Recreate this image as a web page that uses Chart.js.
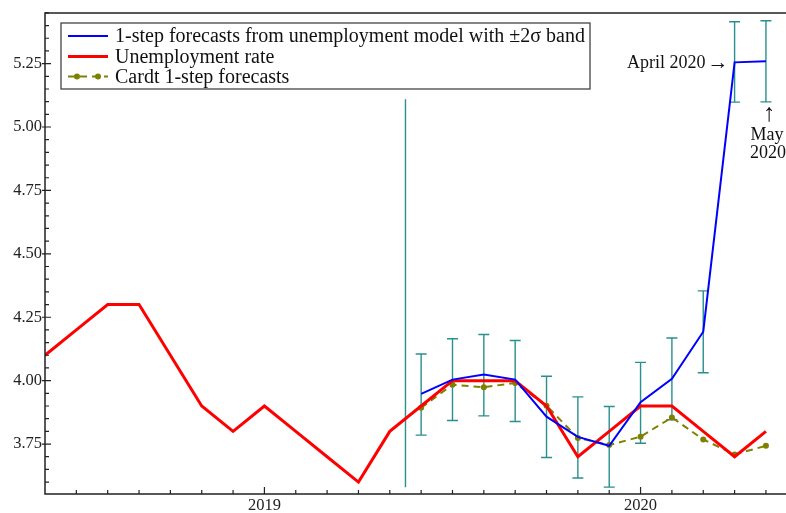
<!DOCTYPE html>
<html><head><meta charset="utf-8">
<script src="https://cdn.jsdelivr.net/npm/chart.js@4.4.0/dist/chart.umd.min.js"></script>
<style>html,body{margin:0;padding:0;background:#fff}canvas{display:block}</style>
</head><body>
<canvas id="c" width="786" height="513"></canvas>
<script>
// Months indexed from Jun 2018 (0) to May 2020 (23)
const months = ['Jun 2018','Jul 2018','Aug 2018','Sep 2018','Oct 2018','Nov 2018','Dec 2018',
  'Jan 2019','Feb 2019','Mar 2019','Apr 2019','May 2019','Jun 2019','Jul 2019','Aug 2019','Sep 2019',
  'Oct 2019','Nov 2019','Dec 2019','Jan 2020','Feb 2020','Mar 2020','Apr 2020','May 2020'];
const unemployment = [4.1,4.2,4.3,4.3,4.1,3.9,3.8,3.9,3.8,3.7,3.6,3.8,3.9,4.0,4.0,4.0,3.9,3.7,3.8,3.9,3.9,3.8,3.7,3.8];
const forecastStart = 12; // Jun 2019
const modelForecast = [3.948,4.004,4.024,4.004,3.858,3.778,3.743,3.915,4.007,4.193,5.255,5.259];
const bandUpper = [4.105,4.165,4.182,4.158,4.017,3.936,3.898,4.072,4.168,4.354,5.415,5.419];
const bandLower = [3.785,3.843,3.861,3.839,3.697,3.616,3.580,3.753,3.846,4.031,5.098,5.099];
const cardtForecast = [3.893,3.984,3.974,3.991,3.901,3.774,3.746,3.779,3.855,3.768,3.709,3.743];
const yearTicks = {7:'2019', 19:'2020'};
const yTickLabels = [3.75,4.00,4.25,4.50,4.75,5.00,5.25];
const markerLine = {x:11.5, low:3.58, high:5.11};
const legendLabels = ['1-step forecasts from unemployment model with \u00b12\u03c3 band','Unemployment rate','Cardt 1-step forecasts'];

const SERIF = '"Liberation Serif","Times New Roman",serif';
const TEAL = '#2a8f8f';
const INK = '#222';

const unempPts = unemployment.map((v,i)=>({x:i,y:v}));
const modelPts = modelForecast.map((v,i)=>({x:forecastStart+i,y:v}));
const cardtPts = cardtForecast.map((v,i)=>({x:forecastStart+i,y:v}));

const decor = {
  id:'decor',
  beforeDatasetsDraw(chart){
    const ctx = chart.ctx, xs = chart.scales.x, ys = chart.scales.y;
    ctx.save();
    ctx.strokeStyle = TEAL; ctx.lineWidth = 1.4;
    const mx = xs.getPixelForValue(markerLine.x);
    ctx.beginPath(); ctx.moveTo(mx, ys.getPixelForValue(markerLine.high)); ctx.lineTo(mx, ys.getPixelForValue(markerLine.low)); ctx.stroke();
    for(let i=0;i<bandUpper.length;i++){
      const x = xs.getPixelForValue(forecastStart+i);
      const yt = ys.getPixelForValue(bandUpper[i]), yb = ys.getPixelForValue(bandLower[i]);
      ctx.beginPath();
      ctx.moveTo(x,yt); ctx.lineTo(x,yb);
      ctx.moveTo(x-5.5,yt); ctx.lineTo(x+5.5,yt);
      ctx.moveTo(x-5.5,yb); ctx.lineTo(x+5.5,yb);
      ctx.stroke();
    }
    ctx.restore();
  },
  afterDraw(chart){
    const ctx = chart.ctx, xs = chart.scales.x, ys = chart.scales.y, a = chart.chartArea;
    ctx.save();
    ctx.strokeStyle = INK; ctx.lineWidth = 1.5;
    ctx.beginPath();
    ctx.moveTo(a.right, a.top); ctx.lineTo(a.left, a.top); ctx.lineTo(a.left, a.bottom); ctx.lineTo(a.right, a.bottom);
    ctx.stroke();
    ctx.lineWidth = 1.2;
    ctx.beginPath();
    for(let i=1;i<months.length;i++){
      const x = xs.getPixelForValue(i);
      ctx.moveTo(x,a.bottom); ctx.lineTo(x,a.bottom-(yearTicks[i]?7:4));
    }
    for(let k=0;k<40;k++){
      const v = 3.55 + k*0.05;
      if(v < ys.min || v > ys.max) continue;
      const y = ys.getPixelForValue(v);
      const major = Math.abs(v*4 - Math.round(v*4)) < 1e-6;
      ctx.moveTo(a.left-(major?3:0),y); ctx.lineTo(a.left+(major?6:4),y);
    }
    ctx.stroke();

    // legend
    const lx=61, ly=23, lw=529, lh=66;
    ctx.fillStyle='#fff'; ctx.fillRect(lx,ly,lw,lh);
    ctx.strokeStyle='#444'; ctx.lineWidth=1.3; ctx.strokeRect(lx,ly,lw,lh);
    const ds = chart.data.datasets;
    const rows=[36,56.5,76.5];
    ctx.font = '20px '+SERIF; ctx.textBaseline='middle'; ctx.fillStyle='#111'; ctx.textAlign='left';
    for(let r=0;r<3;r++){
      const d = ds[r], y = rows[r];
      ctx.save();
      ctx.strokeStyle = d.borderColor; ctx.lineWidth = d.borderWidth;
      ctx.setLineDash(d.borderDash||[]);
      ctx.beginPath(); ctx.moveTo(68,y); ctx.lineTo(108,y); ctx.stroke();
      if(d.pointRadius){
        ctx.fillStyle=d.pointBackgroundColor;
        [77,98].forEach(px=>{ctx.beginPath(); ctx.arc(px,y,d.pointRadius,0,Math.PI*2); ctx.fill();});
      }
      ctx.restore();
      ctx.fillText(legendLabels[r],115,y+1);
    }

    // annotations
    ctx.fillStyle='#111'; ctx.textBaseline='middle';
    const ax = xs.getPixelForValue(22), ay = ys.getPixelForValue(modelForecast[10]);
    ctx.font = '18px '+SERIF; ctx.textAlign='right';
    ctx.fillText('April 2020', ax-29, ay+1);
    ctx.font = '21px '+SERIF; ctx.textAlign='right';
    ctx.fillText('\u2192', ax-6, ay+1);
    const mxp = xs.getPixelForValue(23);
    ctx.textAlign='center';
    ctx.font = '25px '+SERIF;
    ctx.fillText('\u2191', mxp+3, 114);
    ctx.font = '18px '+SERIF;
    ctx.fillText('May', mxp+1, 135);
    ctx.fillText('2020', mxp+2, 153);
    ctx.restore();
  }
};

new Chart(document.getElementById('c'), {
  type:'line',
  data:{datasets:[
    {label:legendLabels[0], data:modelPts, borderColor:'#0000ff', borderWidth:2, pointRadius:0, tension:0},
    {label:legendLabels[1], data:unempPts, borderColor:'#ff0000', borderWidth:3, pointRadius:0, tension:0},
    {label:legendLabels[2], data:cardtPts, borderColor:'#808000', borderWidth:2, borderDash:[7,5],
      pointRadius:3, pointBackgroundColor:'#808000', pointBorderColor:'#808000', pointBorderWidth:0, tension:0}
  ]},
  options:{
    responsive:false, animation:false, devicePixelRatio:1,
    layout:{autoPadding:false, padding:{left:0,right:0,top:11,bottom:0}},
    plugins:{legend:{display:false}, tooltip:{enabled:false}},
    scales:{
      x:{type:'linear', min:0, max:23.64,
        grid:{display:false, drawTicks:false}, border:{display:false},
        afterBuildTicks(s){ s.ticks = Object.keys(yearTicks).map(k=>({value:+k})); },
        afterFit(s){ s.height = 19; },
        ticks:{autoSkip:false, maxRotation:0, padding:2, color:INK, font:{family:SERIF,size:16.5},
          callback:(v)=>yearTicks[v]||''}
      },
      y:{type:'linear', min:3.553, max:5.45,
        grid:{display:false, drawTicks:false}, border:{display:false},
        afterBuildTicks(s){ s.ticks = yTickLabels.map(v=>({value:v})); },
        afterFit(s){ s.width = 45; },
        ticks:{autoSkip:false, padding:3, color:INK, font:{family:SERIF,size:16.5},
          callback:(v)=>v.toFixed(2)}
      }
    }
  },
  plugins:[decor]
});
</script>
</body></html>
